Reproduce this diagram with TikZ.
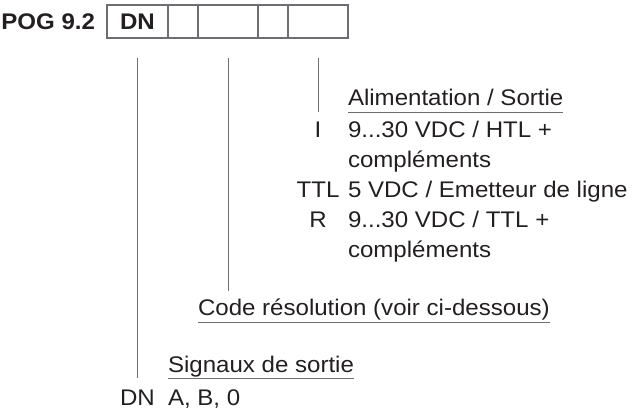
\documentclass[tikz,border=0pt]{standalone}
\usepackage{fontspec}
\setmainfont{Liberation Sans}[FakeStretch=1.065]
\usetikzlibrary{positioning}
\definecolor{ink}{HTML}{231F20}
\definecolor{frame}{HTML}{6D6E71}

\begin{document}
\begin{tikzpicture}[x=1pt,y=-1pt,
  txt/.style={inner sep=0pt,outer sep=0pt,anchor=base west,text=ink,font=\fontsize{22.6}{27}\selectfont},
  key/.style={txt,anchor=base},
  cell/.style={draw=frame,line width=1.3pt,inner sep=0pt,outer sep=0pt,minimum height=33pt,text=ink,font=\fontsize{22.6}{27}\selectfont\bfseries},
  lead/.style={draw=frame,line width=1pt},
  rule/.style={draw=frame,line width=1pt}]
\useasboundingbox (0,0) rectangle (632,410);

\node[cell,minimum width=61pt,anchor=north west] (c1) at (107,5) {DN};
\node[cell,minimum width=30pt,right=0pt of c1] (c2) {};
\node[cell,minimum width=60pt,right=0pt of c2] (c3) {};
\node[cell,minimum width=30pt,right=0pt of c3] (c4) {};
\node[cell,minimum width=60pt,right=0pt of c4] (c5) {};
\node[txt,font=\fontsize{22.6}{27}\selectfont\bfseries,left=12pt of c1] (pog) {POG 9.2};

\node[txt] (alim) at (348,105) {Alimentation / Sortie};
\coordinate (alimL) at ([yshift=-7pt]alim.base west);
\coordinate (alimR) at ([yshift=-7pt]alim.base east);
\draw[rule] (alimL) -- (alimR);
\node[key] (kI) at (318,137) {I};
\node[txt] (vI) at (348,137) {9...30 VDC / HTL +};
\node[txt] (vIb) at (348,167) {compléments};
\node[key] (kTTL) at (318,197) {TTL};
\node[txt] (vTTL) at (348,197) {5 VDC / Emetteur de ligne};
\node[key] (kR) at (318,227) {R};
\node[txt] (vR) at (348,227) {9...30 VDC / TTL +};
\node[txt] (vRb) at (348,257) {compléments};

\node[txt] (code) at (198,315) {Code résolution (voir ci-dessous)};
\coordinate (codeL) at ([yshift=-7pt]code.base west);
\coordinate (codeR) at ([yshift=-7pt]code.base east);
\draw[rule] (codeL) -- (codeR);
\coordinate (codeT) at ([yshift=7pt]c3.south |- code.north);

\node[txt] (sig) at (168,372) {Signaux de sortie};
\coordinate (sigL) at ([yshift=-6pt]sig.base west);
\coordinate (sigR) at ([yshift=-6pt]sig.base east);
\draw[rule] (sigL) -- (sigR);
\node[key] (kDN) at (137.5,405) {DN};
\node[txt] (vDN) at (168,405) {A, B, 0};

\draw[lead] ([yshift=-20pt]c1.south) -- (c1.south |- sigL);
\draw[lead] ([yshift=-20pt]c3.south) -- (codeT);
\draw[lead] ([yshift=-20pt]c5.south) -- (c5.south |- alimL);
\end{tikzpicture}
\end{document}
